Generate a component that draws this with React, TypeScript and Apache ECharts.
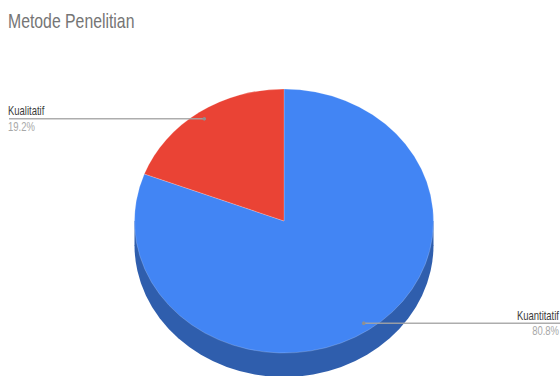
import React, { useEffect, useRef } from "react";
import * as echarts from "echarts";

const title = "Metode Penelitian";
const categories = ["Kuantitatif", "Kualitatif"];
const shares = [80.8, 19.2];
const shareLabels = ["80.8%", "19.2%"];
const sliceColors = ["#4285f4", "#ea4335"];
const sideColor = "#2f5ead";

// Tilted disc geometry
const CX = 284;
const CY = 221;
const RX = 149.5;
const SQUASH = 0.883;
const DEPTH = 24;
const TOP = -Math.PI / 2;
const total = shares.reduce((a, b) => a + b, 0);

// Narrow, tall lettering used by every text on the chart
const FONT = "'Liberation Sans', Arial, sans-serif";
const NARROW = 0.79;

function startFraction(index: number) {
  let sum = 0;
  for (let i = 0; i < index; i++) sum += shares[i];
  return sum / total;
}

const renderSlice = (params: any, api: any) => {
  const i = params.dataIndex;
  const value = api.value(0);
  const from = TOP + startFraction(i) * Math.PI * 2;
  const to = from + (value / total) * Math.PI * 2;
  const mid = (from + to) / 2;

  const ax = CX + Math.cos(mid) * RX * 0.94;
  const ay = CY + Math.sin(mid) * RX * SQUASH * 0.94;
  const onRight = Math.cos(mid) > 0;
  const lineEnd = onRight ? 560 : 9;
  const textX = onRight ? 559 : 8;
  const align = onRight ? "right" : "left";

  const top = {
    type: "sector",
    x: CX,
    y: CY,
    scaleY: SQUASH,
    z2: 10,
    shape: { cx: 0, cy: 0, r: RX, r0: 0, startAngle: from, endAngle: to, clockwise: true },
    style: { fill: sliceColors[i], stroke: "rgba(255,255,255,0.35)", lineWidth: 0.6 },
  };

  // Only the slice that reaches the front of the disc shows a wall
  const wall =
    i === 0
      ? [
          {
            type: "sector",
            x: CX,
            y: CY + DEPTH,
            scaleY: SQUASH,
            z2: 1,
            shape: { cx: 0, cy: 0, r: RX, r0: 0, startAngle: 0, endAngle: Math.PI, clockwise: true },
            style: { fill: sideColor },
          },
          {
            type: "rect",
            z2: 1,
            shape: { x: CX - RX, y: CY, width: RX * 2, height: DEPTH + 0.5 },
            style: { fill: sideColor },
          },
        ]
      : [];

  return {
    type: "group",
    children: [
      ...wall,
      top,
      {
        type: "line",
        z2: 20,
        shape: { x1: lineEnd, y1: ay, x2: ax, y2: ay },
        style: { stroke: "#a4a4a4", lineWidth: 1.4, opacity: 0.9 },
      },
      { type: "circle", z2: 21, shape: { cx: ax, cy: ay, r: 1.8 }, style: { fill: "#8f8f8f" } },
      {
        type: "text",
        z2: 22,
        x: textX,
        y: ay - 2,
        scaleX: NARROW,
        style: {
          x: 0,
          y: 0,
          text: categories[i],
          align,
          verticalAlign: "bottom",
          fontFamily: FONT,
          fontSize: 12,
          fill: "#3c3c3c",
        },
      },
      {
        type: "text",
        z2: 22,
        x: textX,
        y: ay + 1.5,
        scaleX: NARROW,
        style: {
          x: 0,
          y: 0,
          text: shareLabels[i],
          align,
          verticalAlign: "top",
          fontFamily: FONT,
          fontSize: 12,
          fill: "#a8a8a8",
        },
      },
    ],
  };
};

export default function App() {
  const ref = useRef<HTMLDivElement>(null);

  useEffect(() => {
    document.body.style.margin = "0";
    const chart = echarts.init(ref.current!, null, { renderer: "svg" });
    chart.setOption({
      animation: false,
      backgroundColor: "#ffffff",
      graphic: [
        {
          type: "text",
          x: 8,
          y: 11,
          scaleX: NARROW,
          style: {
            text: title,
            fontFamily: FONT,
            fontSize: 20,
            fontWeight: "normal",
            fill: "#757575",
          },
        },
      ],
      series: [
        {
          type: "custom",
          coordinateSystem: "none",
          clip: false,
          renderItem: renderSlice,
          data: shares.map((v) => [v]),
        },
      ],
    });
    return () => chart.dispose();
  }, []);

  return <div ref={ref} style={{ width: 560, height: 376, overflow: "hidden" }} />;
}
